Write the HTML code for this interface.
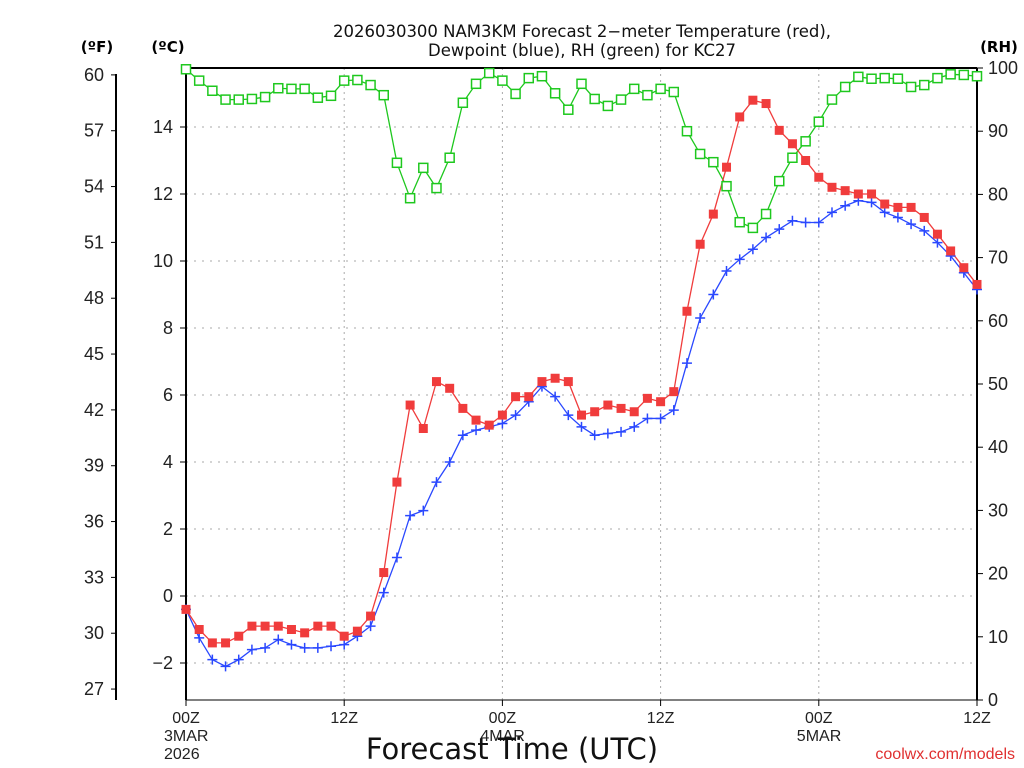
<!DOCTYPE html>
<html><head><meta charset="utf-8"><style>
body{margin:0;background:#fff;}
svg{display:block;font-family:"DejaVu Sans","Liberation Sans",sans-serif;}
.tk{font-family:"Liberation Sans",sans-serif;}
</style></head><body>
<svg id="c" width="1024" height="768" xmlns="http://www.w3.org/2000/svg"></svg>
<script>
const hours=[];for(let i=0;i<=60;i++)hours.push(i);
const tempC=[-0.4,-1.0,-1.4,-1.4,-1.2,-0.9,-0.9,-0.9,-1.0,-1.1,-0.9,-0.9,-1.2,-1.05,-0.6,0.7,3.4,5.7,5.0,6.4,6.2,5.6,5.25,5.1,5.4,5.95,5.95,6.4,6.5,6.4,5.4,5.5,5.7,5.6,5.5,5.9,5.8,6.1,8.5,10.5,11.4,12.8,14.3,14.8,14.7,13.9,13.5,13.0,12.5,12.2,12.1,12.0,12.0,11.7,11.6,11.6,11.3,10.8,10.3,9.8,9.3];
const dewC=[-0.4,-1.25,-1.9,-2.1,-1.9,-1.6,-1.55,-1.3,-1.45,-1.55,-1.55,-1.5,-1.45,-1.2,-0.9,0.1,1.15,2.4,2.55,3.4,4.0,4.8,4.95,5.05,5.15,5.4,5.8,6.25,5.95,5.4,5.05,4.8,4.85,4.9,5.05,5.3,5.3,5.55,6.95,8.3,9.0,9.7,10.05,10.35,10.7,10.95,11.2,11.15,11.15,11.45,11.65,11.8,11.75,11.45,11.3,11.1,10.9,10.55,10.15,9.65,9.15];
const rh=[99.8,98,96.4,95,95,95.1,95.4,96.8,96.7,96.7,95.3,95.6,98,98.1,97.3,95.7,85,79.4,84.2,81,85.8,94.5,97.5,99.2,98,95.9,98.4,98.7,96,93.4,97.5,95.1,94,95,96.7,95.7,96.7,96.2,90,86.4,85.1,81.3,75.6,74.7,76.9,82.1,85.8,88.4,91.5,95,97,98.6,98.3,98.4,98.3,97,97.3,98.4,99,98.9,98.7];
const cTicks=[-2,0,2,4,6,8,10,12,14];
const fTicks=[27,30,33,36,39,42,45,48,51,54,57,60];
const rhTicks=[0,10,20,30,40,50,60,70,80,90,100];
const xTicks=[0,12,24,36,48,60];
const xLab1=["00Z","12Z","00Z","12Z","00Z","12Z"];
const xLab2=["3MAR","","4MAR","","5MAR",""];

const L=186,R=977,T=68,B=700;
const X=h=>L+(R-L)*h/60;
const YC=c=>596-c*33.5;
const YR=r=>B-(B-T)*r/100;
const svg=document.getElementById('c');
const NS="http://www.w3.org/2000/svg";
function mk(tag,a,parent){const e=document.createElementNS(NS,tag);for(const k in a)e.setAttribute(k,a[k]);(parent||svg).appendChild(e);return e;}
function txt(s,a){const e=mk('text',a);e.textContent=s;return e;}

cTicks.forEach(c=>{const e=mk('line',{x1:L,x2:R,y1:YC(c),y2:YC(c),stroke:'#aaa','stroke-dasharray':'2,6'});

});
xTicks.slice(1,-1).forEach(h=>{const e=mk('line',{x1:X(h),x2:X(h),y1:T,y2:B,stroke:'#aaa','stroke-dasharray':'2,4'});

});

mk('line',{x1:L,x2:L,y1:T,y2:B,stroke:'#000','stroke-width':2});
mk('line',{x1:R,x2:R,y1:T,y2:B,stroke:'#000','stroke-width':2});
mk('line',{x1:L,x2:R,y1:T,y2:T,stroke:'#000','stroke-width':2});
mk('line',{x1:L,x2:R,y1:B,y2:B,stroke:'#000','stroke-width':1});
mk('line',{x1:116,x2:116,y1:T+6,y2:B,stroke:'#000','stroke-width':2});

cTicks.forEach(c=>{mk('line',{x1:L-6,x2:L,y1:YC(c),y2:YC(c),stroke:'#000'});
const t=txt(c<0?'\u2212'+(-c):String(c),{x:173,y:YC(c)+6,'text-anchor':'end','font-size':18,fill:'#222',class:'tk'});

});
fTicks.forEach(f=>{const y=YC((f-32)/1.8);mk('line',{x1:111,x2:116,y1:y,y2:y,stroke:'#000'});
const t=txt(String(f),{x:104,y:y+6,'text-anchor':'end','font-size':18,fill:'#222',class:'tk'});

});
rhTicks.forEach(r=>{mk('line',{x1:R,x2:R+6,y1:YR(r),y2:YR(r),stroke:'#000'});
const t=txt(String(r),{x:988,y:YR(r)+6,'font-size':18,fill:'#222',class:'tk'});

});
xTicks.forEach((h,i)=>{mk('line',{x1:X(h),x2:X(h),y1:B,y2:B+6,stroke:'#000'});
const t=txt(xLab1[i],{x:X(h),y:723,'text-anchor':'middle','font-size':16,fill:'#222',class:'tk'});


if(xLab2[i]){const t2=txt(xLab2[i],{x:X(h)-22,y:741,'font-size':16,fill:'#222',class:'tk'});

}});
txt('2026',{x:164,y:759,'font-size':16,fill:'#222',class:'tk'});

function series(vals,yf,color,name){
 const pts=vals.map((v,i)=>X(hours[i])+','+yf(v)).join(' ');
 const p=mk('polyline',{points:pts,fill:'none',stroke:color,'stroke-width':1.3});
 
 
}
series(rh,YR,'#1ec81e','rh');
series(dewC,YC,'#2a48ff','dewpoint');
series(tempC,YC,'#f03c3c','temperature');
rh.forEach((v,i)=>{const e=mk('rect',{x:X(hours[i])-4.5,y:YR(v)-4.5,width:9,height:9,fill:'#fff',stroke:'#1ec81e','stroke-width':1.5});

});
dewC.forEach((v,i)=>{const x=X(hours[i]),y=YC(v);const e=mk('path',{d:`M${x-5} ${y}H${x+5}M${x} ${y-5}V${y+5}`,stroke:'#2a48ff','stroke-width':1.5});

});
tempC.forEach((v,i)=>{const e=mk('rect',{x:X(hours[i])-4.5,y:YC(v)-4.5,width:9,height:9,fill:'#f03c3c'});

});

let t;
t=txt('2026030300 NAM3KM Forecast 2\u2212meter Temperature (red),',{x:582,y:37,'text-anchor':'middle','font-size':16.5,fill:'#111'});

t=txt('Dewpoint (blue), RH (green) for KC27',{x:582,y:56,'text-anchor':'middle','font-size':16.5,fill:'#111'});

t=txt('(ºF)',{x:97,y:52,'text-anchor':'middle','font-size':15,'font-weight':'bold'});

t=txt('(ºC)',{x:168,y:52,'text-anchor':'middle','font-size':15,'font-weight':'bold'});

t=txt('(RH)',{x:999,y:52,'text-anchor':'middle','font-size':15,'font-weight':'bold'});

t=txt('Forecast Time (UTC)',{x:512,y:759,'text-anchor':'middle','font-size':29,fill:'#111'});

t=txt('coolwx.com/models',{x:1015,y:759,'text-anchor':'end','font-size':16,fill:'#e03030',class:'tk'});

</script>
</body></html>
